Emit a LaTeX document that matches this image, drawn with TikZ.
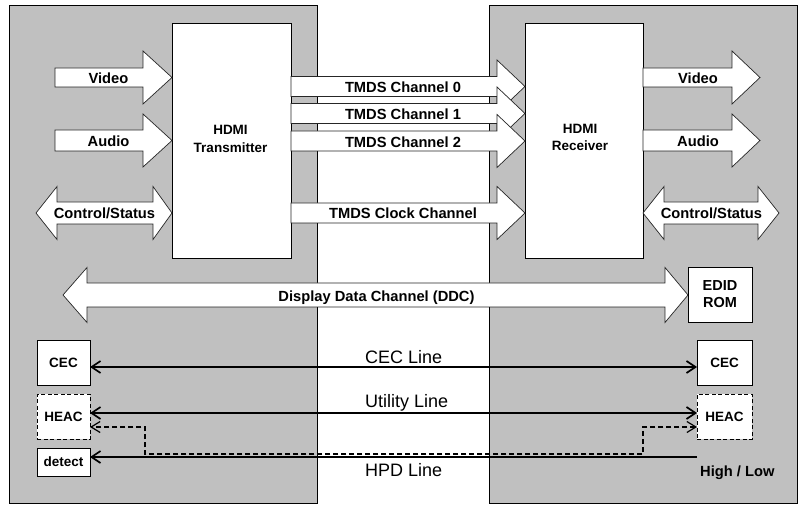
\documentclass[tikz,border=0pt]{standalone}
\usepackage{fontspec}
\setmainfont{Liberation Sans}
\usetikzlibrary{arrows.meta}
\definecolor{panel}{HTML}{C0C0C0}
\tikzset{
  panelbox/.style={draw=black, fill=panel, line width=0.8pt, inner sep=0pt, outer sep=0pt},
  blk/.style={draw=black, fill=white, line width=0.8pt, inner sep=0pt, outer sep=0pt, align=center},
  dblk/.style={blk, dashed, dash pattern=on 4pt off 2.5pt},
  fat/.style={draw=black!85, fill=white, line width=0.7pt, line join=miter},
  lbl/.style={font=\fontsize{14.7}{17}\selectfont\bfseries, inner sep=0pt, anchor=base},
  boxtxt/.style={font=\fontsize{13.5}{16}\selectfont\bfseries},
  edtxt/.style={font=\fontsize{14.5}{18}\selectfont\bfseries},
  hdtxt/.style={font=\fontsize{13.5}{17.5}\selectfont\bfseries, align=center, inner sep=0pt},
  big/.style={font=\fontsize{18}{20}\selectfont, inner sep=0pt, anchor=base west},
  sig/.style={draw=black, line width=2.6pt, >={Straight Barb[length=9pt,width=12pt,line width=1.7pt]}},
  dsig/.style={draw=black, line width=1.2pt, dash pattern=on 5pt off 3pt, >={Straight Barb[length=9pt,width=11pt]}},
}
% right-pointing block arrow: x1, xbase, xtip, y, shaft half, head half
\newcommand\fatR[6]{%
  \path[fat] (#1,#4-#5) -- (#2,#4-#5) -- (#2,#4-#6) -- (#3,#4) -- (#2,#4+#6)
    -- (#2,#4+#5) -- (#1,#4+#5) -- cycle;}
% double block arrow: xtip1, xbase1, xbase2, xtip2, y, shaft half, head half
\newcommand\fatD[7]{%
  \path[fat] (#1,#5) -- (#2,#5-#7) -- (#2,#5-#6) -- (#3,#5-#6) -- (#3,#5-#7)
    -- (#4,#5) -- (#3,#5+#7) -- (#3,#5+#6) -- (#2,#5+#6) -- (#2,#5+#7) -- cycle;}
\begin{document}
\begin{tikzpicture}[x=1pt,y=-1pt]
\useasboundingbox (0,0) rectangle (808,510);
% panels
\node[panelbox, minimum width=308pt, minimum height=498pt] (lp) at (163,254) {};
\node[panelbox, minimum width=308pt, minimum height=498pt] (rp) at (643,254) {};
% chips
\node[blk, minimum width=119pt, minimum height=235pt] (tx) at (231.5,140.5) {};
\node[blk, minimum width=118pt, minimum height=235pt] (rx) at (584,140.5) {};
\node[hdtxt] (txl) at (230.5,139) {HDMI\\Transmitter};
\node[hdtxt] (rxl) at (580,137.5) {HDMI\\Receiver};
% left inputs
\fatR{55}{143}{172}{77.5}{9.5}{26.5}
\node[lbl] (vidl) at (108.5,83.2) {Video};
\fatR{55}{143}{172}{140.5}{10.5}{26.5}
\node[lbl] (audl) at (108.5,146.5) {Audio};
\fatD{36}{57}{153}{172}{213}{11}{26.5}
\node[lbl] (csl) at (104.5,219) {Control/Status};
% right outputs
\fatR{643}{732}{760}{77.5}{9.5}{26.5}
\node[lbl] (vidr) at (698,83.2) {Video};
\fatR{643}{732}{760}{140.5}{10.5}{26.5}
\node[lbl] (audr) at (698,146.5) {Audio};
\fatD{643}{664}{758}{779}{213}{11}{26.5}
\node[lbl] (csr) at (711.5,219) {Control/Status};
% TMDS
\fatR{291}{497}{525}{86.5}{10}{26.5}
\node[lbl] (t0) at (403,92.3) {TMDS Channel 0};
\fatR{291}{497}{525}{113.5}{10}{26.5}
\node[lbl] (t1) at (403,120) {TMDS Channel 1};
\fatR{291}{497}{525}{141}{10}{26.5}
\node[lbl] (t2) at (403,147.3) {TMDS Channel 2};
\fatR{291}{497}{525}{213}{10}{26.5}
\node[lbl] (tc) at (403,218.3) {TMDS Clock Channel};
% DDC
\fatD{63}{87}{665}{688}{295}{12}{27.5}
\node[lbl] (ddc) at (376.5,301.7) {Display Data Channel (DDC)};
\node[blk, edtxt, minimum width=64pt, minimum height=55pt] (edid) at (720,294.5) {EDID\\[-1pt]ROM};
% small boxes
\node[blk, boxtxt, minimum width=53pt, minimum height=45pt] (cecL) at (63.5,362.5) {CEC};
\node[dblk, boxtxt, minimum width=53pt, minimum height=45pt] (heacL) at (63.5,416.5) {HEAC};
\node[blk, boxtxt, minimum width=53pt, minimum height=28pt] (det) at (63.5,462) {detect};
\node[blk, boxtxt, minimum width=55pt, minimum height=45pt] (cecR) at (724.5,362.5) {CEC};
\node[dblk, boxtxt, minimum width=55pt, minimum height=45pt] (heacR) at (724.5,416.5) {HEAC};
% lines
\draw[sig, <->] ([yshift=-4.5pt]cecL.east) -- ([yshift=-4.5pt]cecR.west);
\node[big] (cecln) at (365,363.5) {CEC Line};
\draw[sig, <->] ([yshift=3.5pt]heacL.east) -- ([yshift=3.5pt]heacR.west);
\node[big] (utln) at (365,407.5) {Utility Line};
\coordinate (hpdR) at (697,457);
\draw[sig, ->] (hpdR) -- (det.east |- hpdR);
\node[big] (hpdln) at (365,476.5) {HPD Line};
\node[lbl, anchor=base west] (hl) at (700,476.5) {High / Low};
\coordinate (dA) at (643,427);
\coordinate (dB) at (643,454);
\coordinate (dC) at (145,454);
\coordinate (dD) at (145,427);
\draw[dsig, <->] ([yshift=-10.5pt]heacR.west) -- (dA) -- (dB) -- (dC) -- (dD) -- ([yshift=-10.5pt]heacL.east);
\end{tikzpicture}
\end{document}
